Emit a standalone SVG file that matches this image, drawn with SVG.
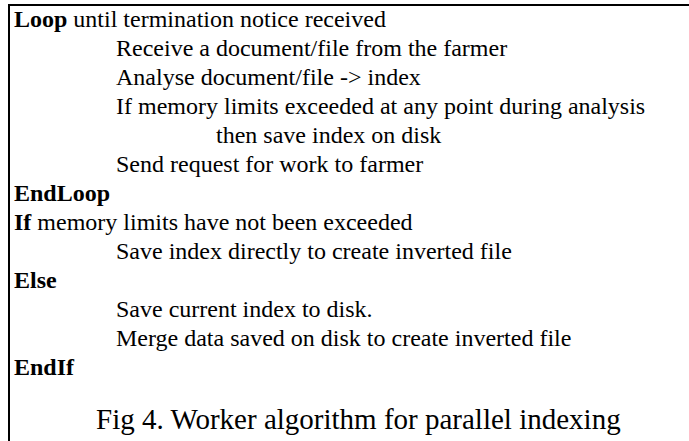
<svg xmlns="http://www.w3.org/2000/svg" width="689" height="441" viewBox="0 0 689 441">
<style>
text{font-family:"Liberation Serif","Times New Roman",serif;font-size:24px;fill:#000}
.b{font-weight:bold}
.cap{font-size:29px}
</style>
<rect width="689" height="441" fill="#fff"/>
<g id="frame" stroke="#000" stroke-width="2" fill="none">
<line x1="8" y1="5" x2="689" y2="5"/>
<line x1="9" y1="4" x2="9" y2="441"/>
</g>
<g id="algorithm">
<text x="14" y="27"><tspan class="b">Loop</tspan> until termination notice received</text>
<text x="116" y="56">Receive a document/file from the farmer</text>
<text x="116" y="85">Analyse document/file -&gt; index</text>
<text x="116" y="114">If memory limits exceeded at any point during analysis</text>
<text x="216" y="143">then save index on disk</text>
<text x="116" y="172">Send request for work to farmer</text>
<text x="14" y="201" class="b">EndLoop</text>
<text x="14" y="230"><tspan class="b">If</tspan> memory limits have not been exceeded</text>
<text x="116" y="259">Save index directly to create inverted file</text>
<text x="14" y="288" class="b">Else</text>
<text x="116" y="317">Save current index to disk.</text>
<text x="116" y="346">Merge data saved on disk to create inverted file</text>
<text x="14" y="375" class="b">EndIf</text>
</g>
<g id="caption">
<text x="96" y="429" class="cap">Fig 4. Worker algorithm for parallel indexing</text>
</g>
</svg>
